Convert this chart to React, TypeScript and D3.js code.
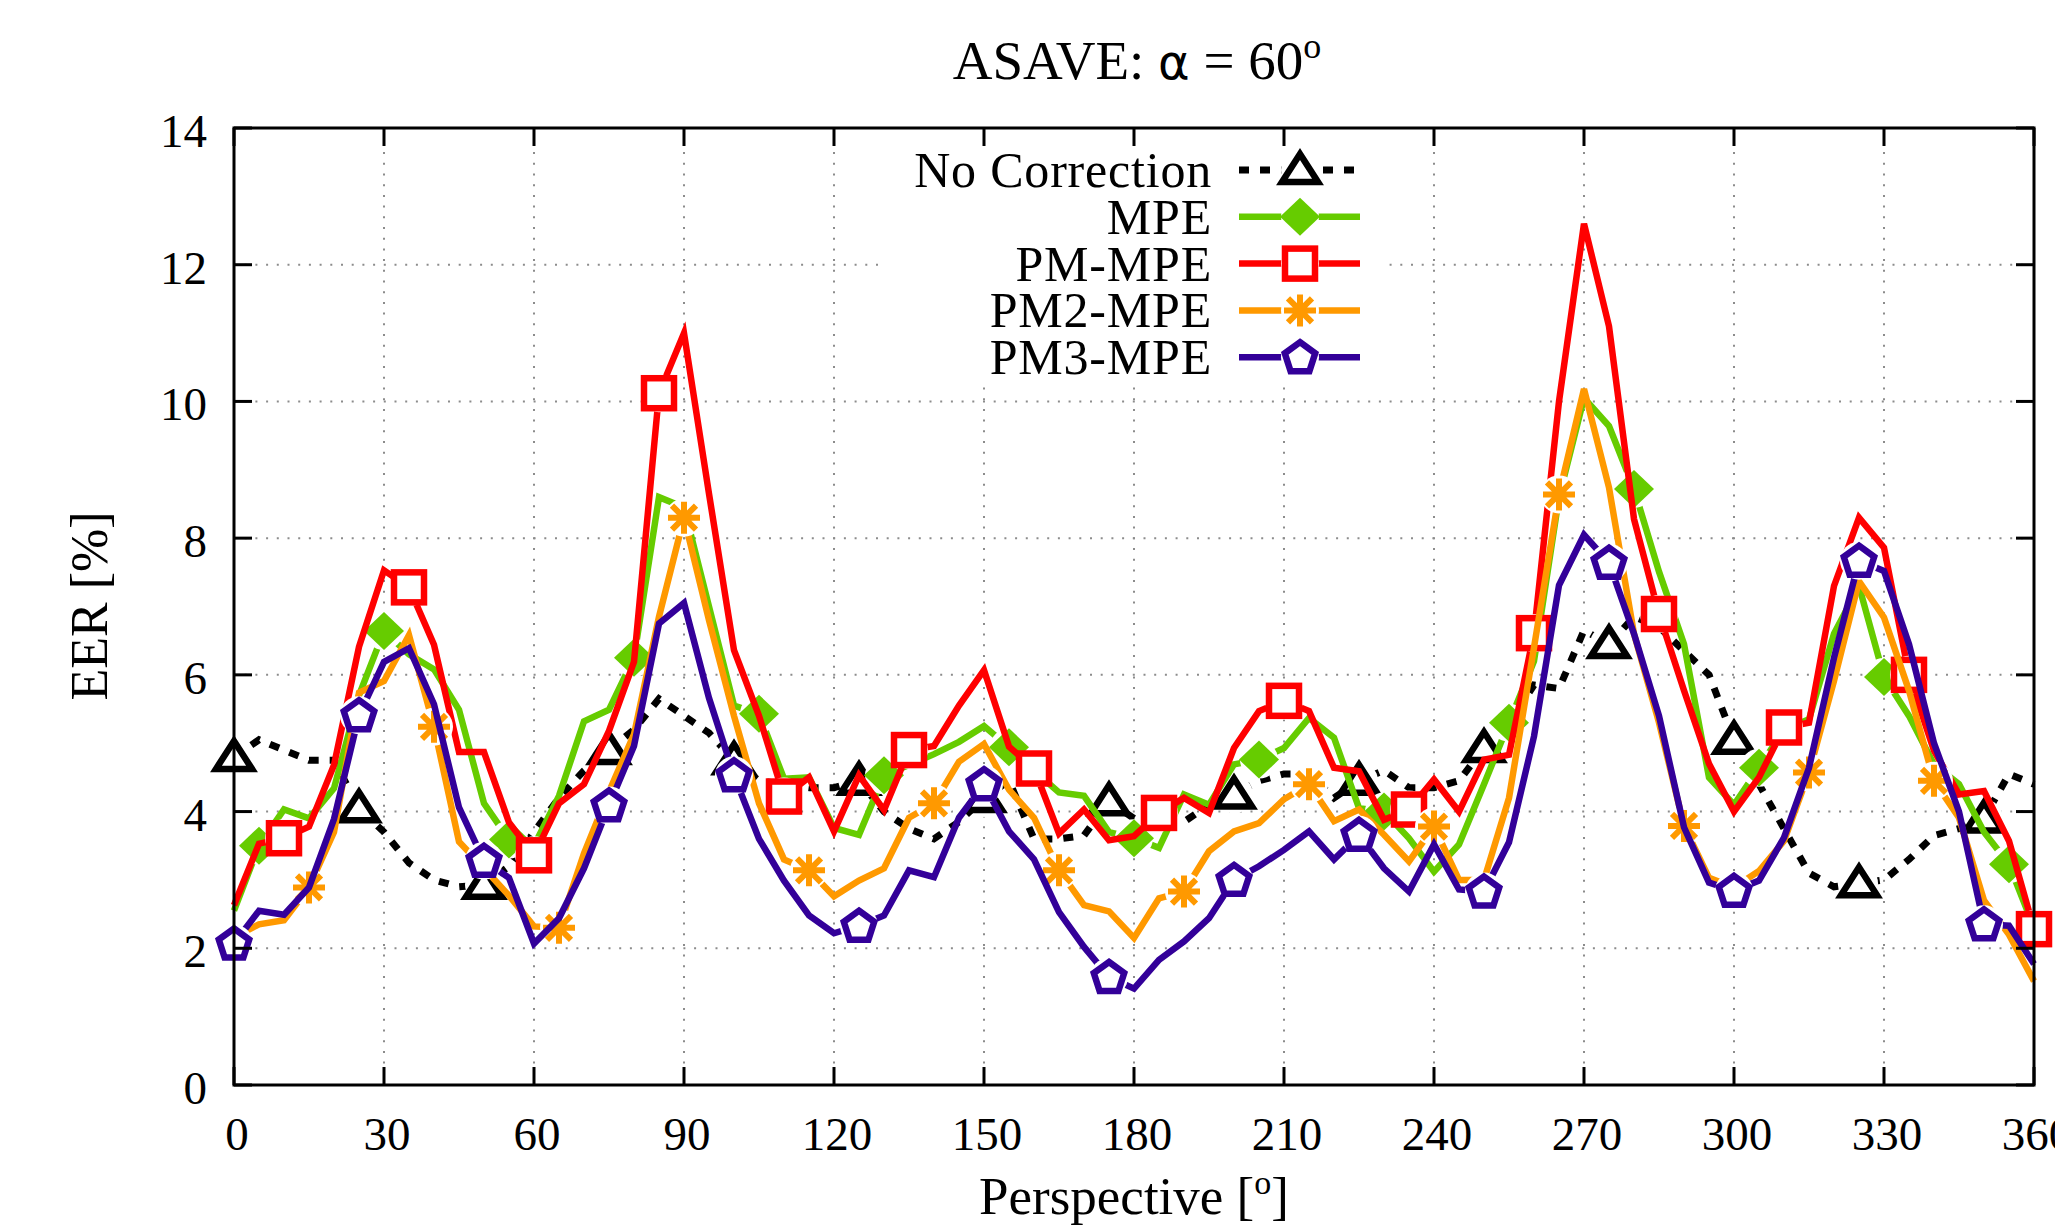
import * as d3 from "d3";
import { useEffect, useRef } from "react";

// perspective angle of every sample (degrees)
const angles: number[] = d3.range(0, 361, 5);

const noCorrection = [
  4.8, 5.05, 4.9, 4.75, 4.75, 4.05,
  3.7, 3.25, 3.0, 2.9, 2.93, 3.2,
  3.7, 4.2, 4.6, 4.9, 5.2, 5.65,
  5.4, 5.15, 4.75, 4.45, 4.4, 4.35,
  4.35, 4.45, 4.0, 3.75, 3.6, 3.85,
  4.2, 4.45, 3.6, 3.6, 3.65, 4.15,
  3.9, 3.9, 3.85, 4.1, 4.25, 4.45,
  4.55, 4.55, 4.2, 4.45, 4.6, 4.35,
  4.35, 4.45, 4.93, 5.3, 5.85, 5.8,
  6.65, 6.45, 6.85, 6.7, 6.35, 6.0,
  5.05, 4.4, 3.75, 3.1, 2.9, 2.95,
  3.0, 3.3, 3.65, 3.75, 3.9, 4.55,
  4.4,
];
const mpe = [
  2.55, 3.5, 4.03, 3.9, 4.34, 5.7,
  6.64, 6.3, 6.08, 5.49, 4.12, 3.59,
  3.5, 4.23, 5.32, 5.49, 6.25, 8.6,
  8.45, 7.0, 5.55, 5.43, 4.48, 4.5,
  3.76, 3.66, 4.53, 4.68, 4.84, 5.02,
  5.25, 4.94, 4.6, 4.28, 4.23, 3.7,
  3.61, 3.47, 4.25, 4.1, 4.69, 4.76,
  4.93, 5.37, 5.08, 4.05, 4.0, 3.61,
  3.12, 3.52, 4.4, 5.3, 6.2, 8.6,
  10.05, 9.64, 8.72, 7.51, 6.45, 4.5,
  4.1, 4.64, 5.2, 5.35, 6.6, 7.3,
  5.97, 5.4, 4.69, 4.4, 3.7, 3.23,
  2.3,
];
const pmMpe = [
  2.63, 3.53, 3.61, 3.78, 4.68, 6.41,
  7.53, 7.28, 6.44, 4.87, 4.87, 3.84,
  3.36, 4.12, 4.4, 5.18, 6.19, 10.12,
  11.0, 8.65, 6.36, 5.4, 4.22, 4.5,
  3.71, 4.53, 4.02, 4.9, 4.96, 5.55,
  6.07, 4.95, 4.63, 3.68, 4.03, 3.58,
  3.64, 3.98, 4.2, 3.98, 4.93, 5.47,
  5.62, 5.47, 4.64, 4.59, 3.88, 4.03,
  4.47, 4.0, 4.76, 4.83, 6.61, 10.0,
  12.6, 11.1, 8.28, 6.89, 5.77, 4.7,
  4.0, 4.5, 5.23, 5.3, 7.3, 8.3,
  7.86, 6.0, 4.89, 4.25, 4.3, 3.57,
  2.28,
];
const pm2Mpe = [
  2.16, 2.35, 2.41, 2.89, 3.7, 5.74,
  5.91, 6.58, 5.24, 3.56, 3.17, 2.77,
  2.32, 2.3, 3.39, 4.29, 5.13, 6.85,
  8.3, 6.8, 5.4, 4.12, 3.3, 3.14,
  2.76, 2.99, 3.17, 3.91, 4.12, 4.73,
  4.99, 4.32, 3.91, 3.14, 2.63, 2.54,
  2.15, 2.73, 2.83, 3.42, 3.71, 3.83,
  4.18, 4.4, 3.86, 4.03, 3.66, 3.27,
  3.78, 3.0, 3.0, 4.2, 6.4, 8.64,
  10.18, 8.74, 6.6, 5.3, 3.79, 3.03,
  2.89, 3.13, 3.57, 4.57, 5.91, 7.37,
  6.84, 5.77, 4.45, 3.91, 2.7, 2.2,
  1.52,
];
const pm3Mpe = [
  2.07, 2.55, 2.49, 2.89, 3.89, 5.41,
  6.19, 6.39, 5.57, 4.06, 3.28, 3.03,
  2.07, 2.44, 3.17, 4.09, 4.96, 6.75,
  7.05, 5.66, 4.53, 3.6, 2.99, 2.48,
  2.22, 2.33, 2.48, 3.14, 3.04, 3.91,
  4.4, 3.71, 3.3, 2.53, 2.02, 1.58,
  1.41, 1.83, 2.1, 2.44, 3.0, 3.2,
  3.44, 3.71, 3.3, 3.66, 3.17, 2.83,
  3.52, 2.86, 2.83, 3.55, 5.1, 7.31,
  8.05, 7.64, 6.6, 5.4, 3.77, 2.96,
  2.84, 2.99, 3.62, 4.64, 6.25, 7.67,
  7.52, 6.45, 5.0, 4.0, 2.35, 2.33,
  1.77,
];

const seriesNames = ["No Correction", "MPE", "PM-MPE", "PM2-MPE", "PM3-MPE"];
const seriesColors = ["#000000", "#66cc00", "#ff0000", "#ff9900", "#330099"];
const markerKinds = ["triangle", "diamond", "square", "asterisk", "pentagon"];
// first angle carrying a symbol, then one every 25 degrees
const markerStart = [0, 5, 10, 15, 0];

const xTicks = d3.range(0, 361, 30);
const yTicks = d3.range(0, 15, 2);

const width = 2055;
const height = 1225;
const marginTop = 128;
const marginRight = 21;
const marginBottom = 140;
const marginLeft = 234;

const serif = "'Liberation Serif', 'Times New Roman', serif";

function drawMarker(g: any, kind: string, color: string) {
  if (kind === "triangle") {
    g.append("path").attr("d", "M0,-16L18,12L-18,12Z")
      .attr("fill", "white").attr("stroke", color).attr("stroke-width", 6.5);
  } else if (kind === "diamond") {
    g.append("path").attr("d", "M0,-19L20,0L0,19L-20,0Z").attr("fill", color);
  } else if (kind === "square") {
    g.append("rect").attr("x", -15).attr("y", -15).attr("width", 30).attr("height", 30)
      .attr("fill", "white").attr("stroke", color).attr("stroke-width", 6.5);
  } else if (kind === "asterisk") {
    g.append("path").attr("d", "M0,-16V16M-16,0H16M-12,-12L12,12M-12,12L12,-12")
      .attr("fill", "none").attr("stroke", color).attr("stroke-width", 6);
  } else {
    const pts = d3.range(5).map(k => {
      const a = -Math.PI / 2 + (k * 2 * Math.PI) / 5;
      return [16 * Math.cos(a), 16 * Math.sin(a) + 1];
    });
    g.append("path").attr("d", "M" + pts.join("L") + "Z")
      .attr("fill", "white").attr("stroke", color).attr("stroke-width", 6.5)
      .attr("stroke-linejoin", "miter");
  }
}

export default function App() {
  const ref = useRef<SVGSVGElement>(null);

  useEffect(() => {
    const svg = d3.select(ref.current);
    svg.selectAll("*").remove();

    const x = d3.scaleLinear().domain([0, 360]).range([marginLeft, width - marginRight]);
    const y = d3.scaleLinear().domain([0, 14]).range([height - marginBottom, marginTop]);

    svg.append("rect").attr("width", width).attr("height", height).attr("fill", "white");

    // dotted grid
    const grid = svg.append("g").attr("stroke", "#8c8c8c").attr("stroke-width", 2)
      .attr("stroke-dasharray", "2,8.7");
    grid.selectAll(null).data(xTicks.slice(1, -1)).join("line")
      .attr("x1", d => x(d)).attr("x2", d => x(d))
      .attr("y1", y(0)).attr("y2", y(14));
    grid.selectAll(null).data(yTicks.slice(1, -1)).join("line")
      .attr("x1", x(0)).attr("x2", x(360))
      .attr("y1", d => y(d)).attr("y2", d => y(d));

    const line = d3.line<number[]>().x(d => x(d[0])).y(d => y(d[1]));
    const series = [noCorrection, mpe, pmMpe, pm2Mpe, pm3Mpe];
    const plot = svg.append("g");

    series.forEach((vals, si) => {
      const pts = angles.map((a, i) => [a, vals[i]]);
      plot.append("path").datum(pts).attr("d", line)
        .attr("fill", "none").attr("stroke", seriesColors[si])
        .attr("stroke-width", si === 0 ? 7 : 6.5)
        .attr("stroke-dasharray", si === 0 ? "10,11" : null);
      const marks = pts.filter(([a]) => a >= markerStart[si] && (a - markerStart[si]) % 25 === 0);
      plot.selectAll(null).data(marks).join("circle")
        .attr("cx", d => x(d[0])).attr("cy", d => y(d[1])).attr("r", 19)
        .attr("fill", "white");
      marks.forEach(d => {
        const g = plot.append("g").attr("transform", `translate(${x(d[0])},${y(d[1])})`);
        drawMarker(g, markerKinds[si], seriesColors[si]);
      });
    });

    // frame and inward ticks
    const axes = svg.append("g").attr("stroke", "black").attr("stroke-width", 3);
    axes.append("rect").attr("x", x(0)).attr("y", y(14))
      .attr("width", x(360) - x(0)).attr("height", y(0) - y(14)).attr("fill", "none");
    yTicks.forEach(v => {
      axes.append("line").attr("x1", x(0)).attr("x2", x(0) + 18).attr("y1", y(v)).attr("y2", y(v));
      axes.append("line").attr("x1", x(360)).attr("x2", x(360) - 18).attr("y1", y(v)).attr("y2", y(v));
    });
    xTicks.forEach(v => {
      axes.append("line").attr("x1", x(v)).attr("x2", x(v)).attr("y1", y(0)).attr("y2", y(0) - 18);
      axes.append("line").attr("x1", x(v)).attr("x2", x(v)).attr("y1", y(14)).attr("y2", y(14) + 18);
    });

    const text = svg.append("g").attr("font-family", serif).attr("fill", "black");
    text.selectAll(null).data(xTicks).join("text")
      .attr("x", d => x(d) + 3).attr("y", 1150).attr("text-anchor", "middle")
      .attr("font-size", 47).text(d => d);
    text.selectAll(null).data(yTicks).join("text")
      .attr("x", 207).attr("y", d => y(d) + 19).attr("text-anchor", "end")
      .attr("font-size", 47).text(d => d);

    // title
    const title = text.append("text").attr("x", 1137).attr("y", 79)
      .attr("text-anchor", "middle").attr("font-size", 55);
    title.append("tspan").text("ASAVE: ");
    title.append("tspan").attr("font-family", "'DejaVu Sans', sans-serif").attr("font-size", 48).text("α");
    title.append("tspan").text(" = 60");
    title.append("tspan").attr("font-size", 36).attr("dy", -21).text("o");

    const xl = text.append("text").attr("x", 1134).attr("y", 1214)
      .attr("text-anchor", "middle").attr("font-size", 53);
    xl.append("tspan").text("Perspective [");
    xl.append("tspan").attr("font-size", 34).attr("dy", -20).text("o");
    xl.append("tspan").attr("dy", 20).text("]");

    text.append("text").attr("transform", "translate(107,606) rotate(-90)")
      .attr("text-anchor", "middle").attr("font-size", 52).text("EER [%]");

    // legend
    const legend = svg.append("g");
    legend.append("rect").attr("x", 878).attr("y", 148).attr("width", 508).attr("height", 235)
      .attr("fill", "white");
    seriesNames.forEach((name, si) => {
      const ry = 170 + si * 46.8;
      legend.append("text").attr("x", 1212).attr("y", ry + 17).attr("text-anchor", "end")
        .attr("font-family", serif).attr("font-size", 50).attr("letter-spacing", 0.8).text(name);
      legend.append("line").attr("x1", 1239).attr("x2", 1360).attr("y1", ry).attr("y2", ry)
        .attr("stroke", seriesColors[si]).attr("stroke-width", si === 0 ? 7 : 6.5)
        .attr("stroke-dasharray", si === 0 ? "10,11" : null);
      legend.append("circle").attr("cx", 1300).attr("cy", ry).attr("r", 19).attr("fill", "white");
      const g = legend.append("g").attr("transform", `translate(1300,${ry})`);
      drawMarker(g, markerKinds[si], seriesColors[si]);
    });
  }, []);

  return (
    <svg
      ref={ref}
      width={width}
      height={height}
      style={{ position: "absolute", left: 0, top: 0, overflow: "hidden" }}
    />
  );
}
